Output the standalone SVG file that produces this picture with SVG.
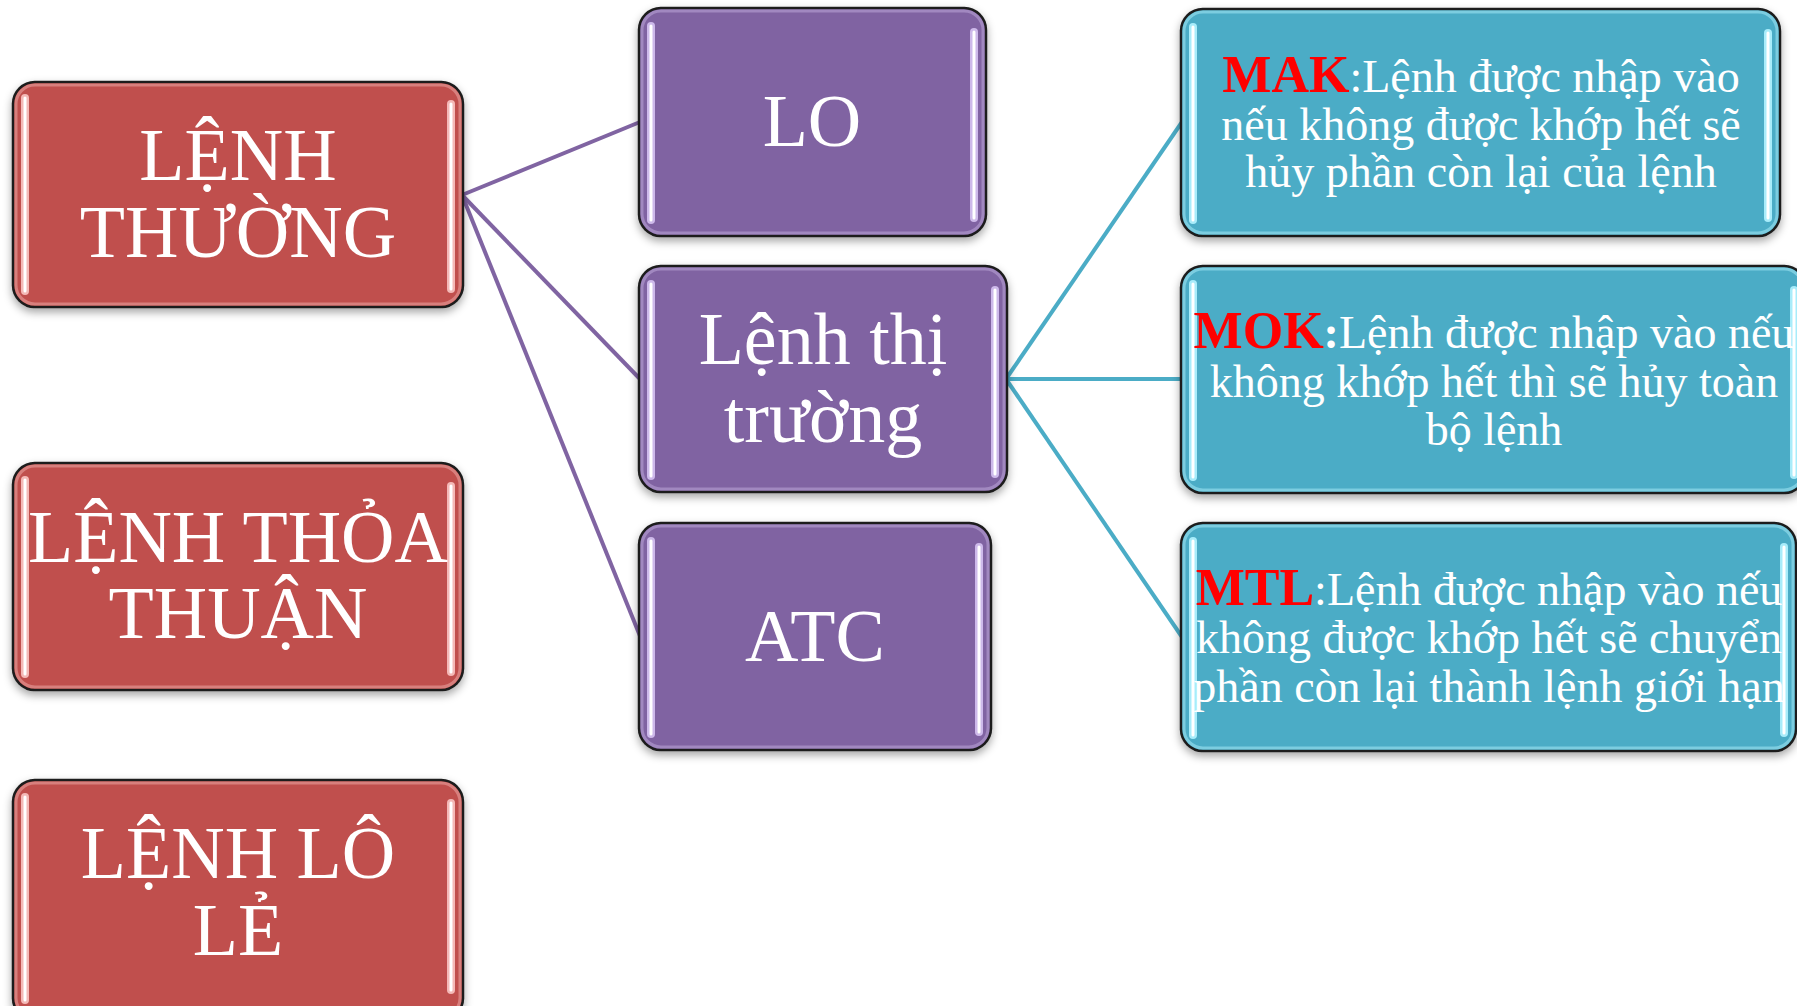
<svg xmlns="http://www.w3.org/2000/svg" width="1797" height="1006" viewBox="0 0 1797 1006">
<defs>
<filter id="sh" x="-10%" y="-10%" width="120%" height="130%">
<feDropShadow dx="0" dy="4" stdDeviation="4" flood-color="#000" flood-opacity="0.35"/>
</filter>
<style>
.box{stroke:#1c1c1c;stroke-width:2.5}
.red{fill:#C0504D}
.pur{fill:#8064A2}
.teal{fill:#4BACC6}
.inR{fill:none;stroke:#E8A09E;stroke-width:3;opacity:.6}
.inP{fill:none;stroke:#B7A2D4;stroke-width:3;opacity:.6}
.inT{fill:none;stroke:#9DE2F2;stroke-width:3;opacity:.6}
.gR{stroke:#F4B9B7;stroke-width:8;stroke-linecap:round}
.gP{stroke:#CDB9EA;stroke-width:8;stroke-linecap:round}
.gT{stroke:#A8ECFA;stroke-width:8;stroke-linecap:round}
.hl{stroke:#fff;stroke-width:3;stroke-linecap:round}
.big{font-family:"Liberation Serif","Times New Roman",serif;font-size:74px;fill:#fff;text-anchor:middle}
.sm{font-family:"Liberation Serif","Times New Roman",serif;font-size:46px;fill:#fff;text-anchor:middle}
.key{fill:#FF0000;font-weight:bold;font-size:52px}
.cp{stroke:#8064A2;stroke-width:4;fill:none}
.ct{stroke:#4BACC6;stroke-width:4;fill:none}
</style>
</defs>
<rect width="1797" height="1006" fill="#fff"/>

<g id="connectors">
<line class="cp" x1="462" y1="195" x2="640" y2="122"/>
<line class="cp" x1="462" y1="195" x2="640" y2="379"/>
<line class="cp" x1="462" y1="195" x2="640" y2="636"/>
<line class="ct" x1="1006" y1="379" x2="1182" y2="122"/>
<line class="ct" x1="1006" y1="379" x2="1182" y2="379"/>
<line class="ct" x1="1006" y1="379" x2="1182" y2="637"/>
</g>

<g id="lenh-thuong">
<rect class="box red" x="13" y="82" width="450" height="225" rx="22" filter="url(#sh)"/>
<rect class="inR" x="16" y="85" width="444" height="219" rx="19"/>
<line class="gR" x1="25" y1="98" x2="25" y2="291"/><line class="hl" x1="25" y1="98" x2="25" y2="291"/>
<line class="gR" x1="451" y1="104" x2="451" y2="289"/><line class="hl" x1="451" y1="104" x2="451" y2="289"/>
<text class="big" x="238" y="180">LỆNH</text>
<text class="big" x="238" y="257">THƯỜNG</text>
</g>

<g id="lenh-thoa-thuan">
<rect class="box red" x="13" y="463" width="450" height="227" rx="22" filter="url(#sh)"/>
<rect class="inR" x="16" y="466" width="444" height="221" rx="19"/>
<line class="gR" x1="25" y1="480" x2="25" y2="674"/><line class="hl" x1="25" y1="480" x2="25" y2="674"/>
<line class="gR" x1="451" y1="486" x2="451" y2="672"/><line class="hl" x1="451" y1="486" x2="451" y2="672"/>
<text class="big" x="238" y="562">LỆNH THỎA</text>
<text class="big" x="238" y="638">THUẬN</text>
</g>

<g id="lenh-lo-le">
<rect class="box red" x="13" y="780" width="450" height="240" rx="22" filter="url(#sh)"/>
<rect class="inR" x="16" y="783" width="444" height="234" rx="19"/>
<line class="gR" x1="25" y1="797" x2="25" y2="1000"/><line class="hl" x1="25" y1="797" x2="25" y2="1000"/>
<line class="gR" x1="451" y1="803" x2="451" y2="990"/><line class="hl" x1="451" y1="803" x2="451" y2="990"/>
<text class="big" x="238" y="878">LỆNH LÔ</text>
<text class="big" x="238" y="955">LẺ</text>
</g>

<g id="lo">
<rect class="box pur" x="639" y="8" width="347" height="228" rx="22" filter="url(#sh)"/>
<rect class="inP" x="642" y="11" width="341" height="222" rx="19"/>
<line class="gP" x1="651" y1="26" x2="651" y2="220"/><line class="hl" x1="651" y1="26" x2="651" y2="220"/>
<line class="gP" x1="974" y1="32" x2="974" y2="218"/><line class="hl" x1="974" y1="32" x2="974" y2="218"/>
<text class="big" x="812" y="146">LO</text>
</g>

<g id="lenh-thi-truong">
<rect class="box pur" x="639" y="266" width="368" height="226" rx="22" filter="url(#sh)"/>
<rect class="inP" x="642" y="269" width="362" height="220" rx="19"/>
<line class="gP" x1="651" y1="284" x2="651" y2="476"/><line class="hl" x1="651" y1="284" x2="651" y2="476"/>
<line class="gP" x1="995" y1="290" x2="995" y2="474"/><line class="hl" x1="995" y1="290" x2="995" y2="474"/>
<text class="big" x="823" y="364">Lệnh thị</text>
<text class="big" x="823" y="442">trường</text>
</g>

<g id="atc">
<rect class="box pur" x="639" y="523" width="352" height="227" rx="22" filter="url(#sh)"/>
<rect class="inP" x="642" y="526" width="346" height="221" rx="19"/>
<line class="gP" x1="651" y1="541" x2="651" y2="734"/><line class="hl" x1="651" y1="541" x2="651" y2="734"/>
<line class="gP" x1="979" y1="547" x2="979" y2="732"/><line class="hl" x1="979" y1="547" x2="979" y2="732"/>
<text class="big" x="815" y="661">ATC</text>
</g>

<g id="mak">
<rect class="box teal" x="1181" y="9" width="599" height="227" rx="22" filter="url(#sh)"/>
<rect class="inT" x="1184" y="12" width="593" height="221" rx="19"/>
<line class="gT" x1="1193" y1="27" x2="1193" y2="220"/><line class="hl" x1="1193" y1="27" x2="1193" y2="220"/>
<line class="gT" x1="1768" y1="33" x2="1768" y2="218"/><line class="hl" x1="1768" y1="33" x2="1768" y2="218"/>
<text class="sm" x="1481" y="92"><tspan class="key">MAK</tspan>:Lệnh được nhập vào</text>
<text class="sm" x="1481" y="140">nếu không được khớp hết sẽ</text>
<text class="sm" x="1481" y="187">hủy phần còn lại của lệnh</text>
</g>

<g id="mok">
<rect class="box teal" x="1181" y="266" width="625" height="227" rx="22" filter="url(#sh)"/>
<rect class="inT" x="1184" y="269" width="619" height="221" rx="19"/>
<line class="gT" x1="1193" y1="284" x2="1193" y2="477"/><line class="hl" x1="1193" y1="284" x2="1193" y2="477"/>
<line class="gT" x1="1794" y1="290" x2="1794" y2="475"/><line class="hl" x1="1794" y1="290" x2="1794" y2="475"/>
<text class="sm" x="1494" y="348"><tspan class="key">MOK</tspan><tspan font-weight="bold">:</tspan>Lệnh được nhập vào nếu</text>
<text class="sm" x="1494" y="397">không khớp hết thì sẽ hủy toàn</text>
<text class="sm" x="1494" y="445">bộ lệnh</text>
</g>

<g id="mtl">
<rect class="box teal" x="1181" y="523" width="615" height="228" rx="22" filter="url(#sh)"/>
<rect class="inT" x="1184" y="526" width="609" height="222" rx="19"/>
<line class="gT" x1="1193" y1="541" x2="1193" y2="735"/><line class="hl" x1="1193" y1="541" x2="1193" y2="735"/>
<line class="gT" x1="1784" y1="547" x2="1784" y2="733"/><line class="hl" x1="1784" y1="547" x2="1784" y2="733"/>
<text class="sm" x="1489" y="605"><tspan class="key">MTL</tspan>:Lệnh được nhập vào nếu</text>
<text class="sm" x="1489" y="653">không được khớp hết sẽ chuyển</text>
<text class="sm" x="1489" y="702">phần còn lại thành lệnh giới hạn</text>
</g>
</svg>
